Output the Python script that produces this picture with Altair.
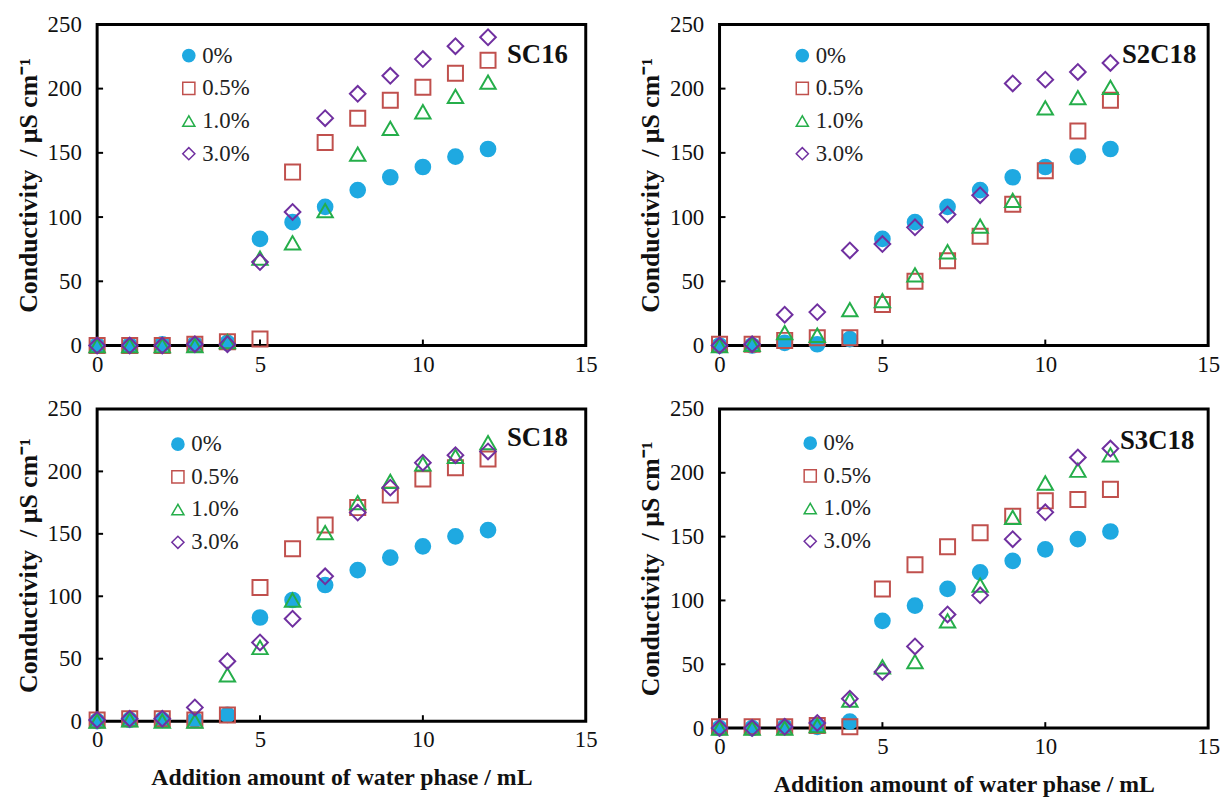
import altair as alt
import pandas as pd

x_vals = list(range(13))
series = ["0%", "0.5%", "1.0%", "3.0%"]
colors = ["#1FA9E1", "#C0504D", "#25AE4A", "#7030A0"]
fills = ["#1FA9E1", "transparent", "transparent", "transparent"]
shapes = ["circle", "square", "triangle-up", "diamond"]
sizes = [220, 250, 320, 220]

x_ticks = [0, 5, 10, 15]
y_ticks = [0, 50, 100, 150, 200, 250]
inner_x_ticks = [5, 10]
inner_y_ticks = [50, 100, 150, 200]

# SC16
sc16_0 = [0, 0, 1, 1, 2, 83, 96, 108, 121, 131, 139, 147, 153]
sc16_05 = [0, 0, 0, 1, 3, 5, 135, 158, 177, 191, 201, 212, 222]
sc16_10 = [0, 0, 0, 0, 3, 68, 80, 105, 149, 169, 182, 194, 205]
sc16_30 = [0, 0, 0, 1, 1, 65, 104, 177, 196, 210, 223, 233, 240]
# S2C18
s2c18_0 = [0, 0, 2, 1, 5, 83, 96, 108, 121, 131, 139, 147, 153]
s2c18_05 = [1, 1, 4, 6, 6, 32, 50, 66, 85, 110, 136, 167, 191]
s2c18_10 = [0, 1, 10, 8, 28, 35, 55, 73, 93, 113, 185, 193, 201]
s2c18_30 = [0, 1, 24, 26, 74, 79, 92, 102, 117, 204, 207, 213, 220]
# SC18
sc18_0 = [0, 1, 1, 1, 5, 83, 97, 109, 121, 131, 140, 148, 153]
sc18_05 = [1, 2, 2, 1, 5, 107, 138, 157, 171, 181, 194, 203, 210]
sc18_10 = [0, 1, 0, 0, 37, 59, 97, 151, 175, 192, 206, 212, 223]
sc18_30 = [1, 2, 2, 11, 48, 63, 82, 116, 167, 187, 207, 213, 216]
# S3C18
s3c18_0 = [0, 0, 1, 1, 5, 84, 96, 109, 122, 131, 140, 148, 154]
s3c18_05 = [1, 1, 1, 2, 1, 109, 128, 142, 153, 166, 178, 179, 187]
s3c18_10 = [0, 0, 0, 2, 22, 48, 52, 84, 112, 165, 192, 202, 214]
s3c18_30 = [0, 0, 1, 4, 23, 44, 64, 89, 104, 148, 169, 212, 219]

panels = [
    ("SC16", [sc16_0, sc16_05, sc16_10, sc16_30]),
    ("S2C18", [s2c18_0, s2c18_05, s2c18_10, s2c18_30]),
    ("SC18", [sc18_0, sc18_05, sc18_10, sc18_30]),
    ("S3C18", [s3c18_0, s3c18_05, s3c18_10, s3c18_30]),
]

FONT = "Liberation Serif"
W = 493


def make_panel(name, data, height, show_x_title, legend_x, legend_y, label_right, label_y):
    rows = []
    for s, vals in zip(series, data):
        for xv, yv in zip(x_vals, vals):
            rows.append({"x": xv, "y": yv, "series": s})
    df = pd.DataFrame(rows)

    leg = alt.Legend(
        title=None, orient="none", legendX=legend_x, legendY=legend_y,
        labelFont=FONT, labelFontSize=23, labelColor="#222222",
        symbolSize=150, symbolStrokeWidth=1.5, rowPadding=9, labelOffset=2,
    )
    xscale = alt.Scale(domain=[0, 15], nice=False)
    yscale = alt.Scale(domain=[0, 250], nice=False)
    xaxis = alt.Axis(
        values=x_ticks, labelFontSize=23, labelPadding=8, labelFlush=False,
        title="Addition amount of water phase / mL" if show_x_title else None,
        titleFontSize=24, titleFontWeight="bold", titlePadding=14,
    )
    yaxis = alt.Axis(
        values=y_ticks, labelFontSize=23, labelPadding=16,
        title="Conductivity\u00a0\u00a0/ µS cm⁻¹", titleFontSize=26,
        titleFontWeight="bold", titlePadding=6,
    )
    points = alt.Chart(df).mark_point(filled=False, strokeWidth=2, opacity=1).encode(
        x=alt.X("x:Q", scale=xscale, axis=xaxis),
        y=alt.Y("y:Q", scale=yscale, axis=yaxis),
        color=alt.Color("series:N", scale=alt.Scale(domain=series, range=colors), legend=leg),
        fill=alt.Fill("series:N", scale=alt.Scale(domain=series, range=fills), legend=leg),
        shape=alt.Shape("series:N", scale=alt.Scale(domain=series, range=shapes), legend=leg),
        size=alt.Size("series:N", scale=alt.Scale(domain=series, range=sizes), legend=None),
        order=alt.Order("order:Q"),
    ).transform_calculate(
        order="indexof(['0%','0.5%','1.0%','3.0%'], datum.series)"
    )
    xt = alt.Chart(pd.DataFrame({"t": inner_x_ticks})).mark_rule(color="black", strokeWidth=2).encode(
        x=alt.X("t:Q", scale=xscale), y=alt.value(height), y2=alt.value(height - 6)
    )
    yt = alt.Chart(pd.DataFrame({"t": inner_y_ticks})).mark_rule(color="black", strokeWidth=2).encode(
        y=alt.Y("t:Q", scale=yscale), x=alt.value(0), x2=alt.value(6)
    )
    label = alt.Chart(pd.DataFrame({"name": [name]})).mark_text(
        font=FONT, fontSize=27, fontWeight="bold", align="right", baseline="middle", color="#111111"
    ).encode(text="name:N", x=alt.value(W - label_right), y=alt.value(label_y))
    return alt.layer(points, xt, yt, label).properties(width=W, height=height)


p1 = make_panel("SC16", panels[0][1], 324, False, 81, 20, 18, 31)
p2 = make_panel("S2C18", panels[1][1], 324, False, 72, 20, 12, 31)
p3 = make_panel("SC18", panels[2][1], 315, True, 70, 24, 18, 29)
p4 = make_panel("S3C18", panels[3][1], 322, True, 80, 23, 14, 32)

ind = dict(color="independent", fill="independent", shape="independent")
top = alt.hconcat(p1, p2, spacing=38).resolve_legend(**ind)
bottom = alt.hconcat(p3, p4, spacing=38).resolve_legend(**ind)
chart = alt.vconcat(top, bottom, spacing=18).resolve_legend(**ind).properties(
    padding={"left": 14, "top": 8, "right": 5, "bottom": 5}, background="white"
).configure_view(
    stroke="black", strokeWidth=3
).configure_axis(
    labelFont=FONT, titleFont=FONT, grid=False, domain=False, ticks=False,
    labelColor="#111111", titleColor="#111111",
).configure_legend(
    labelFont=FONT, labelFontSize=23
)

chart.save("out.html", embed_options={"renderer": "svg", "actions": False})
